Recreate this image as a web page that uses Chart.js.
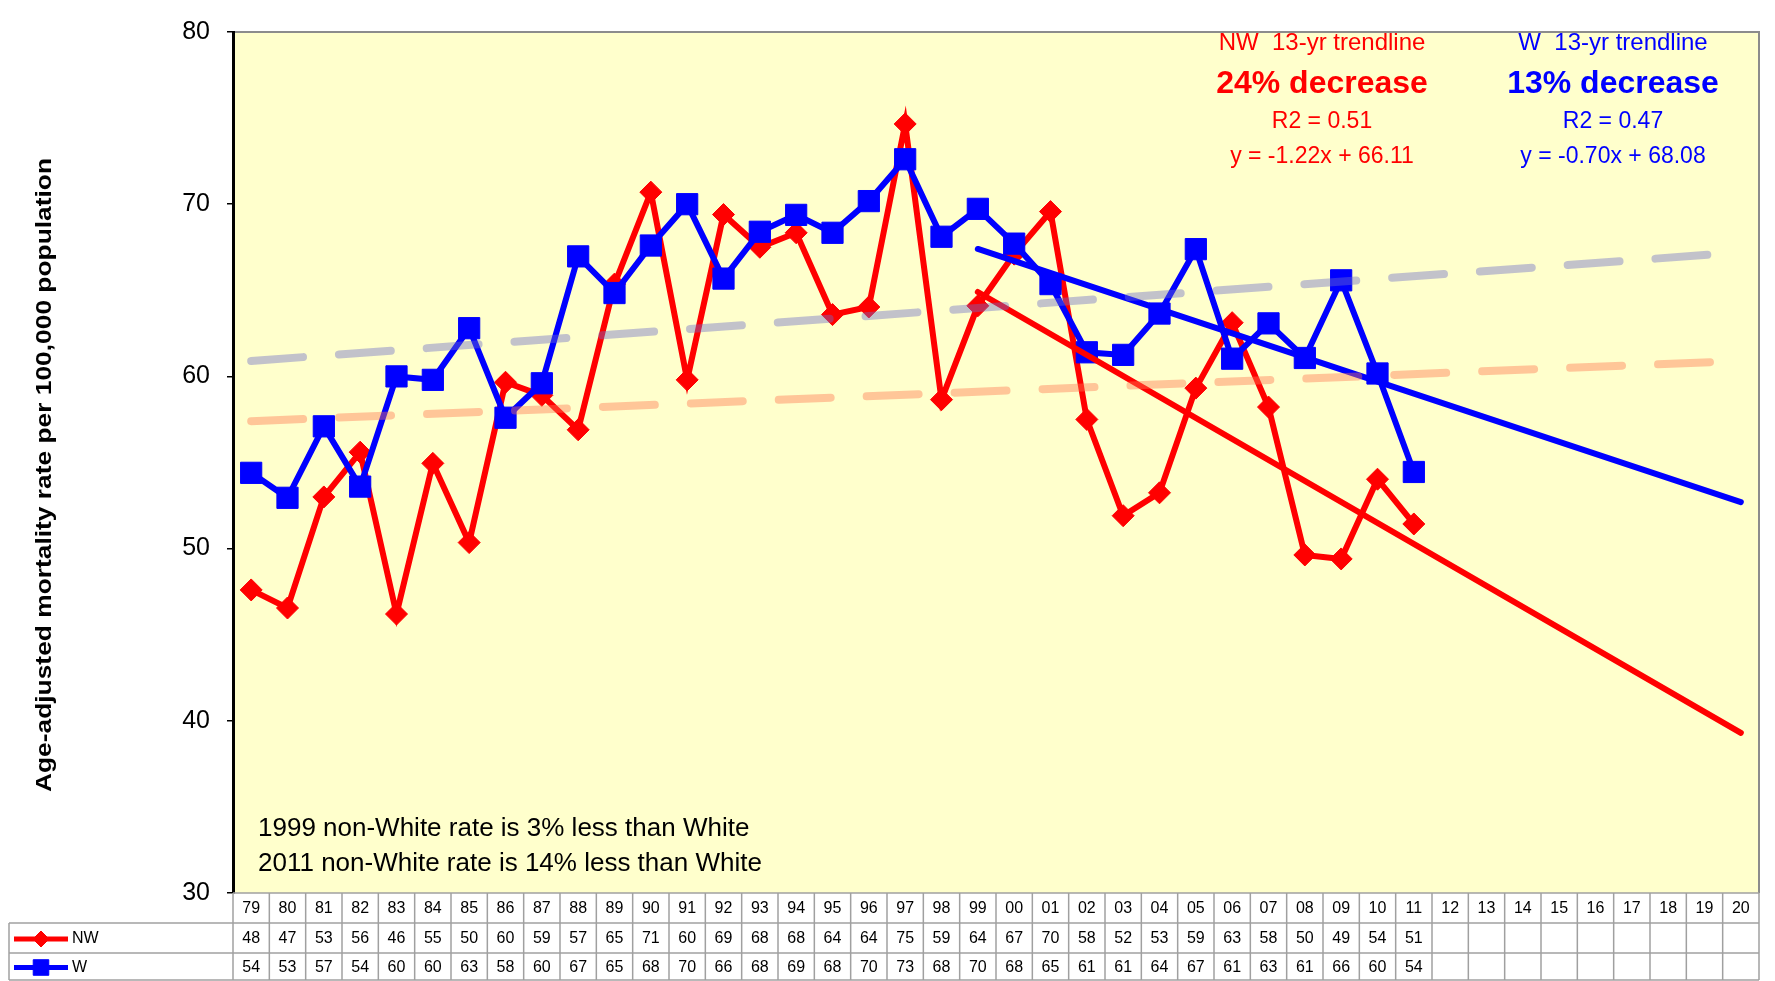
<!DOCTYPE html>
<html>
<head>
<meta charset="utf-8">
<script src="https://cdn.jsdelivr.net/npm/chart.js@4.4.1/dist/chart.umd.min.js"></script>
<style>
  html, body { margin: 0; padding: 0; background: #fff; }
  #wrap { width: 1775px; height: 981px; }
</style>
</head>
<body>
<div id="wrap"><canvas id="chart" width="1775" height="981"></canvas></div>
<script>
// years 1979 - 2020, two digit labels as in the data table
const years = ['79','80','81','82','83','84','85','86','87','88','89','90','91','92','93','94','95','96','97','98','99',
               '00','01','02','03','04','05','06','07','08','09','10','11','12','13','14','15','16','17','18','19','20'];

// non-White (NW) and White (W) age-adjusted rates, 1979-2011
const nwRate = [47.6, 46.55, 53.0, 55.6, 46.2, 54.95, 50.35, 59.66, 58.9, 56.9, 65.36, 70.7, 59.8, 69.4, 67.5, 68.34, 63.59,
                64.03, 74.66, 58.65, 64.1, 67.1, 69.57, 57.5, 51.91, 53.24, 59.32, 63.12, 58.22, 49.63, 49.4, 54.03, 51.43];
const wRate = [54.4, 52.95, 57.1, 53.6, 60.0, 59.8, 62.8, 57.6, 59.6, 66.97, 64.84, 67.6, 70.0, 65.68, 68.4, 69.38, 68.34,
               70.18, 72.61, 68.11, 69.73, 67.71, 65.36, 61.4, 61.25, 63.65, 67.39, 61.03, 63.08, 61.07, 65.58, 60.17, 54.45];

// rounded values printed in the table
const nwTable = [48,47,53,56,46,55,50,60,59,57,65,71,60,69,68,68,64,64,75,59,64,67,70,58,52,53,59,63,58,50,49,54,51];
const wTable  = [54,53,57,54,60,60,63,58,60,67,65,68,70,66,68,69,68,70,73,68,70,68,65,61,61,64,67,61,63,61,66,60,54];

// 13-yr trendlines (1999 -> 2020) and long dashed trendlines (1979 -> 2020), end points
const trendYears = ['99', '20'];
const nwTrend = [64.9, 39.3];
const wTrend = [67.4, 52.7];
const longYears = ['79', '20'];
const wLong = [60.9, 67.2];
const nwLong = [57.4, 60.9];

const yTicks = [30, 40, 50, 60, 70, 80];

const FONT = '"Liberation Sans", Arial, sans-serif';

function pts(xs, ys) {
    return xs.map((x, i) => ({x: x, y: ys[i]}));
}

function line(ctx, x1, y1, x2, y2) {
    ctx.beginPath();
    ctx.moveTo(x1, y1);
    ctx.lineTo(x2, y2);
    ctx.stroke();
}

const plotBack = {
    id: 'plotBack',
    beforeDraw(chart) {
        const {ctx, chartArea: a} = chart;
        ctx.save();
        ctx.fillStyle = '#FFFFFF';
        ctx.fillRect(0, 0, chart.width, chart.height);
        ctx.fillStyle = '#FFFFCC';
        ctx.fillRect(a.left, a.top, a.right - a.left, a.bottom - a.top);
        ctx.strokeStyle = '#8c8c8c';
        ctx.lineWidth = 2;
        ctx.beginPath();
        ctx.moveTo(a.left, a.top);
        ctx.lineTo(a.right, a.top);
        ctx.lineTo(a.right, a.bottom);
        ctx.stroke();
        ctx.restore();
    }
};

const dataTable = {
    id: 'dataTable',
    afterDraw(chart) {
        const {ctx, chartArea: a} = chart;
        const x = chart.scales.x;
        const n = years.length;
        const cw = (a.right - a.left) / n;
        const rows = [a.bottom, a.bottom + 30, a.bottom + 60, chart.height - 1];
        const tableLeft = 9;

        ctx.save();
        ctx.strokeStyle = '#a0a0a0';
        ctx.lineWidth = 1.5;
        line(ctx, a.left, rows[0], a.right, rows[0]);
        for (let r = 1; r < rows.length; r++) {
            line(ctx, tableLeft, rows[r], a.right, rows[r]);
        }
        line(ctx, tableLeft, rows[1], tableLeft, rows[3]);
        for (let i = 0; i <= n; i++) {
            const xb = i < n ? x.getPixelForValue(i) - cw / 2 : x.getPixelForValue(n - 1) + cw / 2;
            line(ctx, xb, rows[0], xb, rows[3]);
        }

        ctx.fillStyle = '#000';
        ctx.font = '16px ' + FONT;
        ctx.textAlign = 'center';
        ctx.textBaseline = 'middle';
        const mid = r => (rows[r] + rows[r + 1]) / 2 + 1;
        years.forEach((yr, i) => ctx.fillText(yr, x.getPixelForValue(i), mid(0)));
        nwTable.forEach((v, i) => ctx.fillText(String(v), x.getPixelForValue(i), mid(1)));
        wTable.forEach((v, i) => ctx.fillText(String(v), x.getPixelForValue(i), mid(2)));

        // legend keys
        const keys = [
            {label: 'NW', color: '#FF0000', style: 'rectRot', radius: 8, y: mid(1)},
            {label: 'W', color: '#0000FF', style: 'rect', radius: 11, y: mid(2)}
        ];
        keys.forEach(k => {
            ctx.strokeStyle = k.color;
            ctx.fillStyle = k.color;
            ctx.lineWidth = 5;
            line(ctx, 14, k.y, 68, k.y);
            ctx.lineWidth = 1;
            Chart.helpers.drawPoint(ctx, {pointStyle: k.style, radius: k.radius, borderWidth: 1, rotation: 0}, 41, k.y);
            ctx.fillStyle = '#000';
            ctx.textAlign = 'left';
            ctx.fillText(k.label, 72, k.y);
        });
        ctx.restore();
    }
};

const notes = {
    id: 'notes',
    afterDraw(chart) {
        const ctx = chart.ctx;
        ctx.save();
        ctx.textAlign = 'center';
        ctx.textBaseline = 'middle';

        ctx.fillStyle = '#FF0000';
        ctx.font = '24px ' + FONT;
        ctx.fillText('NW  13-yr trendline', 1322, 43);
        ctx.font = 'bold 32px ' + FONT;
        ctx.fillText('24% decrease', 1322, 84);
        ctx.font = '23px ' + FONT;
        ctx.fillText('R2 = 0.51', 1322, 122);
        ctx.fillText('y = -1.22x + 66.11', 1322, 157);

        ctx.fillStyle = '#0000FF';
        ctx.font = '24px ' + FONT;
        ctx.fillText('W  13-yr trendline', 1613, 43);
        ctx.font = 'bold 32px ' + FONT;
        ctx.fillText('13% decrease', 1613, 84);
        ctx.font = '23px ' + FONT;
        ctx.fillText('R2 = 0.47', 1613, 122);
        ctx.fillText('y = -0.70x + 68.08', 1613, 157);

        ctx.fillStyle = '#000';
        ctx.textAlign = 'left';
        ctx.font = '26px ' + FONT;
        ctx.fillText('1999 non-White rate is 3% less than White', 258, 829);
        ctx.fillText('2011 non-White rate is 14% less than White', 258, 864);

        // y axis title
        ctx.translate(45, 475);
        ctx.rotate(-Math.PI / 2);
        ctx.font = 'bold 22px ' + FONT;
        ctx.textAlign = 'center';
        const title = 'Age-adjusted mortality rate per 100,000 population';
        const w = ctx.measureText(title).width;
        ctx.scale(634 / w, 1);
        ctx.fillText(title, 0, 0);
        ctx.restore();
    }
};

new Chart(document.getElementById('chart'), {
    type: 'line',
    data: {
        labels: years,
        datasets: [
            {
                label: 'W long trend',
                data: pts(longYears, wLong),
                borderColor: 'rgba(110,110,200,0.42)',
                borderWidth: 8,
                borderDash: [52, 36],
                borderCapStyle: 'round',
                pointRadius: 0,
                spanGaps: true
            },
            {
                label: 'NW long trend',
                data: pts(longYears, nwLong),
                borderColor: 'rgba(255,120,80,0.42)',
                borderWidth: 8,
                borderDash: [52, 36],
                borderCapStyle: 'round',
                pointRadius: 0,
                spanGaps: true
            },
            {
                label: 'W trend',
                data: pts(trendYears, wTrend),
                borderColor: '#0000FF',
                borderWidth: 6,
                borderCapStyle: 'round',
                pointRadius: 0,
                spanGaps: true
            },
            {
                label: 'NW trend',
                data: pts(trendYears, nwTrend),
                borderColor: '#FF0000',
                borderWidth: 6,
                borderCapStyle: 'round',
                pointRadius: 0,
                spanGaps: true
            },
            {
                label: 'W',
                data: wRate,
                borderColor: '#0000FF',
                backgroundColor: '#0000FF',
                borderWidth: 6,
                pointStyle: 'rect',
                pointRadius: 15,
                pointBorderWidth: 1,
                tension: 0
            },
            {
                label: 'NW',
                data: nwRate,
                borderColor: '#FF0000',
                backgroundColor: '#FF0000',
                borderWidth: 6,
                pointStyle: 'rectRot',
                pointRadius: 11,
                pointBorderWidth: 1,
                tension: 0
            }
        ]
    },
    options: {
        responsive: false,
        animation: false,
        devicePixelRatio: 1,
        layout: {padding: {top: 16, right: 7, bottom: 88, left: 0}},
        plugins: {
            legend: {display: false},
            tooltip: {enabled: false}
        },
        scales: {
            x: {
                display: false,
                offset: true
            },
            y: {
                min: 30,
                max: 80,
                afterFit(scale) { scale.width = 233; },
                afterBuildTicks(scale) { scale.ticks = yTicks.map(v => ({value: v})); },
                ticks: {
                    color: '#000',
                    padding: 17,
                    font: {family: FONT, size: 25}
                },
                grid: {
                    drawOnChartArea: false,
                    color: '#000',
                    lineWidth: 1.5,
                    tickLength: 6
                },
                border: {color: '#000', width: 3}
            }
        }
    },
    plugins: [plotBack, dataTable, notes]
});
</script>
</body>
</html>
